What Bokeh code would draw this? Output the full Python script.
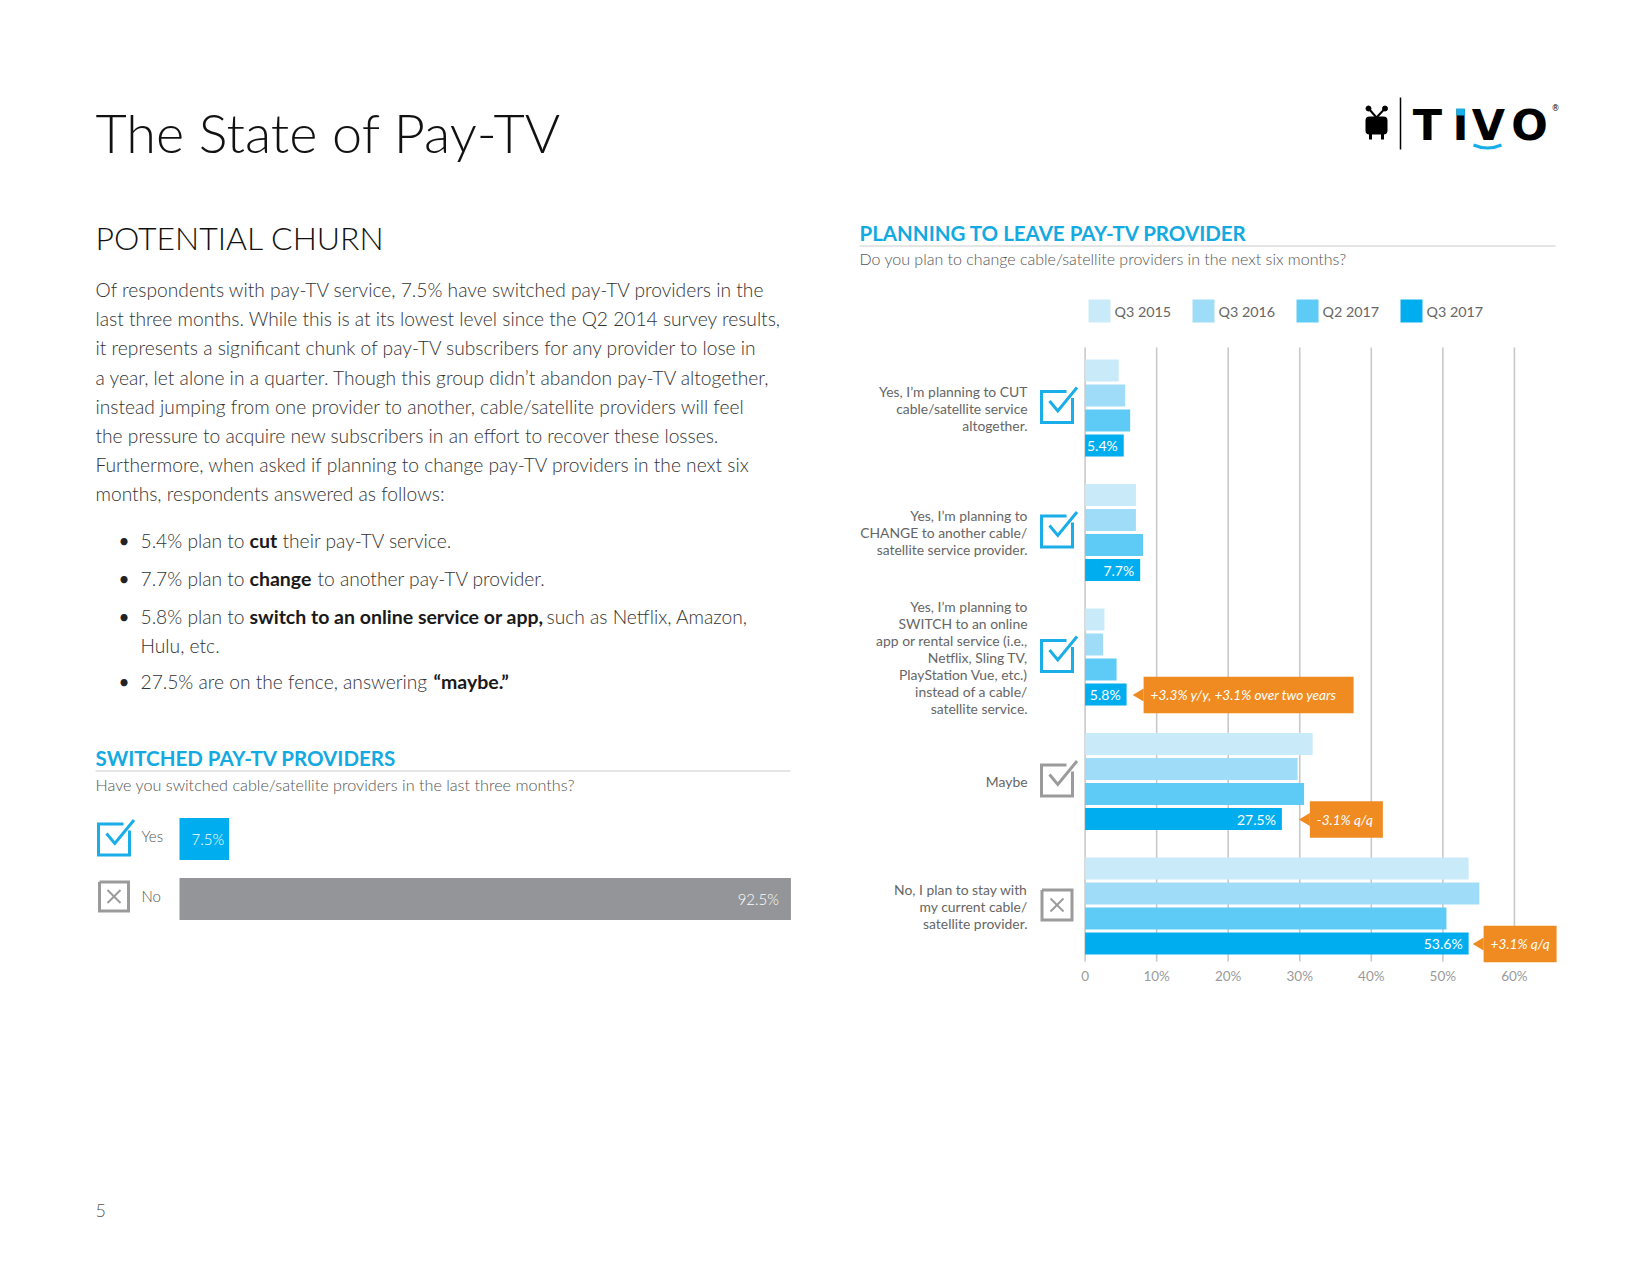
from bokeh.plotting import figure
from bokeh.models import Range1d, LinearAxis, FixedTicker
from bokeh.core.properties import value
from bokeh.embed import file_html
from bokeh.resources import INLINE

# ---------------- data ----------------
SW_CATS = ["Yes", "No"]
SW_VALUES = [7.5, 92.5]
SW_LABELS = ["7.5%", "92.5%"]
SW_COLORS = ["#00aeef", "#939598"]

PLAN_CATS = [
    "Yes, I\u2019m planning to CUT\ncable/satellite service\naltogether.",
    "Yes, I\u2019m planning to\nCHANGE to another cable/\nsatellite service provider.",
    "Yes, I\u2019m planning to\nSWITCH to an online\napp or rental service (i.e.,\nNetflix, Sling TV,\nPlayStation Vue, etc.)\ninstead of a cable/\nsatellite service.",
    "Maybe",
    "No, I plan to stay with\nmy current cable/\nsatellite provider.",
]
PLAN_ICONS = ["check", "check", "check", "maybe", "cross"]
SERIES = ["Q3 2015", "Q3 2016", "Q2 2017", "Q3 2017"]
Q3_2015 = [4.7, 7.1, 2.7, 31.8, 53.6]
Q3_2016 = [5.6, 7.1, 2.5, 29.7, 55.1]
Q2_2017 = [6.3, 8.1, 4.4, 30.6, 50.5]
Q3_2017 = [5.4, 7.7, 5.8, 27.5, 53.6]
Q3_2017_LABELS = ["5.4%", "7.7%", "5.8%", "27.5%", "53.6%"]
SERIES_COLORS = ["#c8eaf9", "#9fdcf7", "#5ecbf6", "#00aeef"]

CALLOUT_CAT = [2, 3, 4]
CALLOUT_TEXT = ["+3.3% y/y, +3.1% over two years", "-3.1% q/q", "+3.1% q/q"]

TICKS = [0, 10, 20, 30, 40, 50, 60]
TICK_LABELS = ["0", "10%", "20%", "30%", "40%", "50%", "60%"]

PARAGRAPH = [
    "Of respondents with pay-TV service, 7.5% have switched pay-TV providers in the",
    "last three months. While this is at its lowest level since the Q2 2014 survey results,",
    "it represents a significant chunk of pay-TV subscribers for any provider to lose in",
    "a year, let alone in a quarter. Though this group didn\u2019t abandon pay-TV altogether,",
    "instead jumping from one provider to another, cable/satellite providers will feel",
    "the pressure to acquire new subscribers in an effort to recover these losses.",
    "Furthermore, when asked if planning to change pay-TV providers in the next six",
    "months, respondents answered as follows:",
]
# bullet lines: list of (text, bold) fragments
BULLETS = [
    [("5.4% plan to", False), ("cut", True), ("their pay-TV service.", False)],
    [("7.7% plan to", False), ("change", True), ("to another pay-TV provider.", False)],
    [("5.8% plan to", False), ("switch to an online service or app,", True), ("such as Netflix, Amazon,", False)],
    [("Hulu, etc.", False)],
    [("27.5% are on the fence, answering", False), ("\u201cmaybe.\u201d", True)],
]

# ---------------- layout constants (page pixels) ----------------
W, H = 1634, 1259
OX, OY = 0, 0
BODY_FONT = "Lato Light"
FONT = "Lato"

p = figure(width=W, height=H, x_range=Range1d(OX, OX + W), y_range=Range1d(OY + H, OY),
           x_axis_type=None, y_axis_type=None, toolbar_location=None,
           output_backend="svg", min_border=0, outline_line_color=None)
p.background_fill_color = "white"
p.border_fill_color = "white"

# right chart scales
X0, K = 1084.6, 7.155            # 0% position, px per %
Y0, SLOT, GP = 370.0, 25.0, 4.98  # first bar centre, bar pitch, group pitch (slots)
SW_X0, SW_K = 179.0, 6.61
p.extra_x_ranges = {
    "pct": Range1d((OX - X0) / K, (OX + W - X0) / K),
    "sw": Range1d((OX - SW_X0) / SW_K, (OX + W - SW_X0) / SW_K),
}
SWY0, SWP = 838.5, 60.0
p.extra_y_ranges = {
    "slot": Range1d((OY + H - Y0) / SLOT, (OY - Y0) / SLOT),
    "swy": Range1d((OY + H - SWY0) / SWP, (OY - SWY0) / SWP),
}


def txt(x, y, s, size, color="#333333", font=FONT, style="normal", align="left",
        baseline="middle", lh=1.2, xr="default", yr="default", **kw):
    p.text(x=[x], y=[y], text=[s], text_font=value(font), text_font_size=f"{size}px",
           text_font_style=style, text_color=color, text_align=align,
           text_baseline=baseline, text_line_height=lh,
           x_range_name=xr, y_range_name=yr, **kw)


def check_icon(cx, cy, color, s=15.5):
    p.multi_line(xs=[[cx + s, cx + s, cx - s, cx - s, cx + s - 6],
                     [cx - 7.5, cx + 0.8, cx + 20]],
                 ys=[[cy - s + 6.5, cy + s, cy + s, cy - s, cy - s],
                     [cy - 6, cy + 4, cy - 19.5]],
                 line_color=color, line_width=3, line_join="miter")


def cross_icon(cx, cy, color, s=15):
    p.multi_line(xs=[[cx - s, cx + s, cx + s, cx - s, cx - s]],
                 ys=[[cy - s, cy - s, cy + s, cy + s, cy - s]],
                 line_color=color, line_width=3, line_join="miter")
    p.multi_line(xs=[[cx - 6.5, cx + 6.5], [cx - 6.5, cx + 6.5]],
                 ys=[[cy - 6.5, cy + 6.5], [cy + 6.5, cy - 6.5]],
                 line_color=color, line_width=2)


BLUE = "#13a9e1"
ICON_BLUE = "#1aaee8"
GRAY_ICON = "#9b9b9b"
ORANGE = "#f08b22"

# ---------------- header ----------------
txt(95, 131.5, "The State of Pay-TV", 54, color="#111111", font=BODY_FONT)

# TiVo logo
p.segment(x0=[1400], x1=[1400], y0=[97], y1=[149], line_color="black", line_width=1.5)
p.quad(left=[1365], right=[1387], top=[116], bottom=[134], fill_color="black",
       line_color=None, border_radius=4)
p.quad(left=[1368.5, 1380.5], right=[1371.5, 1383.5], top=[132, 132], bottom=[139, 139],
       fill_color="black", line_color=None)
p.multi_line(xs=[[1376, 1368.5], [1376, 1384]], ys=[[117, 108.5], [117, 108.5]],
             line_color="black", line_width=2)
p.scatter(x=[1368, 1384.5], y=[108, 108], size=5, color="black")
LOGO_X = [1427, 1460, 1488, 1529]
for ch, cx in zip(["T", "I", "V", "O"], LOGO_X):
    txt(cx, 124, ch, 43, color="black", font="DejaVu Sans", style="bold", align="center")
p.quad(left=[LOGO_X[1] - 4.3], right=[LOGO_X[1] + 4.3], top=[108], bottom=[115],
       fill_color="#1aaee8", line_color=None)
txt(1551, 108, "\u00ae", 8, color="black", font="DejaVu Sans", align="left")
p.quadratic(x0=[1473], y0=[144.5], x1=[1501], y1=[144.5], cx=[1487], cy=[150.5],
            line_color="#1aaee8", line_width=3)

# ---------------- left column ----------------
txt(95, 237, "POTENTIAL CHURN", 32, color="#111111", font=BODY_FONT)

PARA_Y0, PARA_LH = 289.0, 29.2
for i, line in enumerate(PARAGRAPH):
    txt(95, PARA_Y0 + i * PARA_LH, line, 19.2, color="#333333", font=BODY_FONT)

BULLET_Y = [540, 577.5, 615.5, 645, 681]
FRAG_X = [
    [140, 249, 282],
    [140, 249, 317],
    [140, 249, 546],
    [140],
    [140, 433],
]
for fr, y, xs in zip(BULLETS, BULLET_Y, FRAG_X):
    if fr[0][0] != "Hulu, etc.":
        txt(118, y, "\u2022", 19, color="#222222", font=FONT)
    for (s, bold), x in zip(fr, xs):
        txt(x, y, s, 19.5 if bold else 19.2, color="#1a1a1a" if bold else "#333333",
            font=FONT if bold else BODY_FONT, style="bold" if bold else "normal")

# switched chart
txt(95, 757.5, "SWITCHED PAY-TV PROVIDERS", 20.5, color=BLUE, style="bold")
p.segment(x0=[95], x1=[790], y0=[770.5], y1=[770.5], line_color="#cccccc", line_width=1)
txt(95, 783.5, "Have you switched cable/satellite providers in the last three months?", 16.2,
    color="#555555", font=BODY_FONT)

SW_LABEL_OFF = [-5, -12]
p.hbar(y=[0, 1], left=0, right=SW_VALUES, height=0.7, fill_color=SW_COLORS,
       line_color=None, x_range_name="sw", y_range_name="swy")
p.text(x=SW_VALUES, y=[0, 1], text=SW_LABELS, x_offset=SW_LABEL_OFF, text_align="right",
       text_baseline="middle", text_color="white", text_font=value(BODY_FONT),
       text_font_size="15px", x_range_name="sw", y_range_name="swy")
p.text(x=[141, 141], y=[0, 1], text=SW_CATS, text_align="left", text_baseline="middle",
       text_color="#555555", text_font=value(BODY_FONT), text_font_size="15px",
       y_range_name="swy", y_offset=-3)
check_icon(113.5, 839, ICON_BLUE)
cross_icon(113.5, 896, GRAY_ICON, s=14.5)

txt(95, 1210, "5", 18, color="#555555", font=BODY_FONT)

# ---------------- right column ----------------
txt(859, 232.5, "PLANNING TO LEAVE PAY-TV PROVIDER", 20.5, color=BLUE, style="bold")
p.segment(x0=[859], x1=[1555], y0=[245.5], y1=[245.5], line_color="#cccccc", line_width=1)
txt(859, 257.5, "Do you plan to change cable/satellite providers in the next six months?", 16,
    color="#555555", font=BODY_FONT)

# legend
for j, (name, col) in enumerate(zip(SERIES, SERIES_COLORS)):
    lx = 1088 + j * 104
    p.quad(left=[lx], right=[lx + 22], top=[299], bottom=[322], fill_color=col, line_color=None)
    txt(lx + 26, 311, name, 14.3, color="#666666", font=FONT)

# grid lines
p.segment(x0=TICKS, x1=TICKS, y0=[347] * len(TICKS), y1=[961] * len(TICKS),
          line_color="#c9c9c9", line_width=1.6, x_range_name="pct")

# bars
for j, (vals, col) in enumerate(zip([Q3_2015, Q3_2016, Q2_2017, Q3_2017], SERIES_COLORS)):
    ys = [g * GP + j for g in range(len(vals))]
    p.hbar(y=ys, left=0, right=vals, height=0.88, fill_color=col, line_color=None,
           x_range_name="pct", y_range_name="slot")

p.text(x=Q3_2017, y=[g * GP + 3 for g in range(len(Q3_2017))], text=Q3_2017_LABELS,
       x_offset=-6, text_align="right", text_baseline="middle", text_color="white",
       text_font=value(FONT), text_font_size="14px", x_range_name="pct", y_range_name="slot")

# category labels
p.text(x=[1027] * len(PLAN_CATS), y=[g * GP + 1.5 for g in range(len(PLAN_CATS))],
       text=PLAN_CATS, text_align="right", text_baseline="middle", text_color="#666666",
       text_font=value(FONT), text_font_size="13.9px", text_line_height=1.0,
       y_range_name="slot")

# icons
for g, kind in enumerate(PLAN_ICONS):
    cy = Y0 + (g * GP + 1.5) * SLOT - 1
    if kind == "check":
        check_icon(1056.5, cy, ICON_BLUE)
    elif kind == "maybe":
        check_icon(1056.5, cy, GRAY_ICON)
    else:
        cross_icon(1056.5, cy, GRAY_ICON)

# callouts
GAP = [6, 17, 4]
BOXW = [210, 73, 73]
TRI_W, TRI_H, BOX_H = 11.0, 13.0, 36.5
for c, g in enumerate(CALLOUT_CAT):
    v = Q3_2017[g]
    s = g * GP + 3 + 0.02
    tip = v + GAP[c] / K
    bl = tip + TRI_W / K
    br = bl + BOXW[c] / K
    p.patch(x=[tip, bl, bl], y=[s, s - TRI_H / 2 / SLOT, s + TRI_H / 2 / SLOT],
            fill_color=ORANGE, line_color=None, x_range_name="pct", y_range_name="slot")
    p.quad(left=[bl], right=[br], top=[s - BOX_H / 2 / SLOT], bottom=[s + BOX_H / 2 / SLOT],
           fill_color=ORANGE, line_color=None, x_range_name="pct", y_range_name="slot")
    p.text(x=[bl], y=[s], text=[CALLOUT_TEXT[c]], x_offset=7, text_align="left",
           text_baseline="middle", text_color="white", text_font=value(FONT),
           text_font_style="italic", text_font_size="13.6px",
           x_range_name="pct", y_range_name="slot")

# axis
ax = LinearAxis(x_range_name="pct", ticker=FixedTicker(ticks=TICKS),
                major_label_overrides={t: l for t, l in zip(TICKS, TICK_LABELS)},
                axis_line_color=None, major_tick_line_color=None, minor_tick_line_color=None,
                major_label_text_font=FONT, major_label_text_font_size="13.5px",
                major_label_text_color="#9a9a9a", major_label_standoff=3,
                fixed_location=958)
p.add_layout(ax, "below")

open("out.html", "w").write(file_html(p, INLINE))
